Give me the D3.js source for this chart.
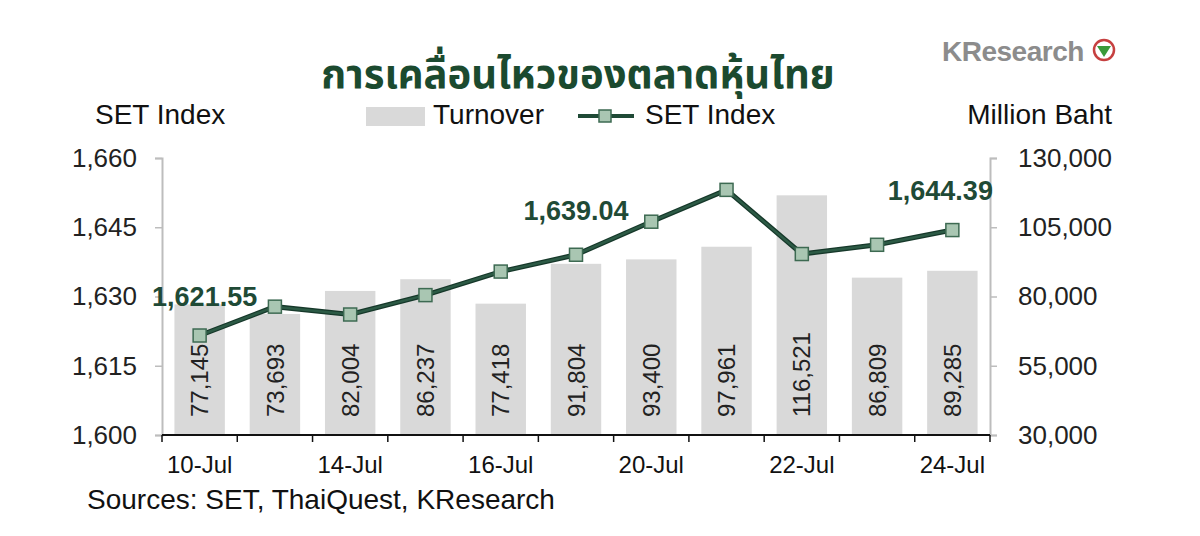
<!DOCTYPE html>
<html>
<head>
<meta charset="utf-8">
<title>SET Index</title>
<script src="https://cdn.jsdelivr.net/npm/d3@7"></script>
<style>
  body { margin: 0; background: #fff; }
  svg text { font-family: Arial, "Liberation Sans", sans-serif; }
</style>
</head>
<body>
<svg id="chart" width="1200" height="536"></svg>
<script>
// data
var dates = ["10-Jul","13-Jul","14-Jul","15-Jul","16-Jul","17-Jul","20-Jul","21-Jul","22-Jul","23-Jul","24-Jul"];
var shownDates = ["10-Jul","14-Jul","16-Jul","20-Jul","22-Jul","24-Jul"];
var turnover = [77145, 73693, 82004, 86237, 77418, 91804, 93400, 97961, 116521, 86809, 89285];
var setIndex = [1621.55, 1627.8, 1626.1, 1630.3, 1635.4, 1639.04, 1646.2, 1653.1, 1639.2, 1641.2, 1644.39];
var labelled = ["10-Jul", "17-Jul", "24-Jul"];
var leftTicks = [1600, 1615, 1630, 1645, 1660];
var rightTicks = [30000, 55000, 80000, 105000, 130000];

var svg = d3.select("#chart");
var pLeft = 162, pRight = 990, pTop = 158, pBottom = 435;
var green = "#1f4a36";

var x = d3.scaleBand().domain(dates).range([pLeft, pRight]).paddingInner(0.33).paddingOuter(0.165);
var yL = d3.scaleLinear().domain([1600, 1660]).range([pBottom, pTop]);
var yR = d3.scaleLinear().domain([30000, 130000]).range([pBottom, pTop]);
var fmt = d3.format(",");

// title
svg.append("text").attr("x", 578).attr("y", 88).attr("text-anchor", "middle")
  .style("font-family", "'Noto Sans Thai', 'Noto Sans', Tahoma, sans-serif")
  .style("font-size", "40px").style("font-weight", "bold").style("fill", "#1b4a2f")
  .text("การเคลื่อนไหวของตลาดหุ้นไทย");

// logo
svg.append("text").attr("x", 942).attr("y", 61)
  .style("font-size", "28px").style("font-weight", "bold").style("fill", "#8c8c8c")
  .style("letter-spacing", "-0.5px").text("KResearch");
svg.append("circle").attr("cx", 1104).attr("cy", 50).attr("r", 10)
  .attr("fill", "#fff").attr("stroke", "#c64040").attr("stroke-width", 2.5);
svg.append("path").attr("d", "M1097,46 L1111,46 L1104,57 Z").attr("fill", "#3a9a3a");

// axis titles + legend
svg.append("text").attr("x", 95).attr("y", 124).style("font-size", "28px").style("fill", "#111").text("SET Index");
svg.append("text").attr("x", 1112).attr("y", 124).attr("text-anchor", "end").style("font-size", "28px").style("fill", "#111").text("Million Baht");
svg.append("rect").attr("x", 366).attr("y", 107).attr("width", 59).attr("height", 19).attr("fill", "#d9d9d9");
svg.append("text").attr("x", 433).attr("y", 124).style("font-size", "28px").style("fill", "#111").text("Turnover");
svg.append("line").attr("x1", 578).attr("x2", 634).attr("y1", 116).attr("y2", 116).attr("stroke", green).attr("stroke-width", 4);
svg.append("rect").attr("x", 599).attr("y", 110).attr("width", 12).attr("height", 12)
  .attr("fill", "#a9c6b2").attr("stroke", "#3d6a52").attr("stroke-width", 1.5);
svg.append("text").attr("x", 645).attr("y", 124).style("font-size", "28px").style("fill", "#111").text("SET Index");

// bars
svg.selectAll(".bar").data(turnover).enter().append("rect")
  .attr("x", function(d, i) { return x(dates[i]); })
  .attr("width", x.bandwidth())
  .attr("y", function(d) { return yR(d); })
  .attr("height", function(d) { return pBottom - yR(d); })
  .attr("fill", "#d9d9d9");

svg.selectAll(".barlab").data(turnover).enter().append("text")
  .attr("transform", function(d, i) {
    return "translate(" + (x(dates[i]) + x.bandwidth() / 2) + "," + (pBottom - 18) + ") rotate(-90)";
  })
  .attr("dy", "0.36em")
  .style("font-size", "24px").style("fill", "#222")
  .text(function(d) { return fmt(d); });

// axes
var axL = svg.append("g").attr("transform", "translate(" + pLeft + ",0)")
  .call(d3.axisLeft(yL).tickValues(leftTicks).tickSize(7).tickPadding(18).tickFormat(d3.format(",")));
var axR = svg.append("g").attr("transform", "translate(" + pRight + ",0)")
  .call(d3.axisRight(yR).tickValues(rightTicks).tickSize(7).tickPadding(21).tickFormat(d3.format(",")));
[axL, axR].forEach(function(g) {
  g.select(".domain").attr("stroke", "#bdbdbd").attr("stroke-width", 2);
  g.selectAll(".tick line").attr("stroke", "#bdbdbd").attr("stroke-width", 1.5);
  g.selectAll(".tick text").style("font-size", "26px").style("font-family", "Arial, 'Liberation Sans', sans-serif").attr("fill", "#222");
});

// x axis: ticks at category boundaries
var bounds = dates.map(function(d) { return x(d) - x.step() * x.paddingInner() / 2; }).concat([pRight]);
svg.append("line").attr("x1", pLeft).attr("x2", pRight).attr("y1", pBottom).attr("y2", pBottom)
  .attr("stroke", "#111").attr("stroke-width", 2);
svg.selectAll(".xtick").data(bounds).enter().append("line")
  .attr("x1", function(d) { return d; }).attr("x2", function(d) { return d; })
  .attr("y1", pBottom).attr("y2", pBottom + 7)
  .attr("stroke", "#111").attr("stroke-width", 1.5);
svg.selectAll(".xlab").data(shownDates).enter().append("text")
  .attr("x", function(d) { return x(d) + x.bandwidth() / 2; })
  .attr("y", 473).attr("text-anchor", "middle")
  .style("font-size", "24px").style("fill", "#111")
  .text(function(d) { return d; });

// line
var line = d3.line().x(function(d, i) { return x(dates[i]) + x.bandwidth() / 2; }).y(function(d) { return yL(d); });
svg.append("path").datum(setIndex).attr("d", line).attr("fill", "none")
  .attr("stroke", "#16382a").attr("stroke-width", 5);
svg.append("path").datum(setIndex).attr("d", line).attr("fill", "none")
  .attr("stroke", "#2c5a45").attr("stroke-width", 2.5);
svg.selectAll(".mk").data(setIndex).enter().append("rect")
  .attr("x", function(d, i) { return x(dates[i]) + x.bandwidth() / 2 - 6.5; })
  .attr("y", function(d) { return yL(d) - 6.5; })
  .attr("width", 13).attr("height", 13)
  .attr("fill", "#a9c6b2").attr("stroke", "#3d6a52").attr("stroke-width", 1.5);

// value labels
svg.selectAll(".vlab").data(labelled).enter().append("text")
  .attr("x", function(d) { var i = dates.indexOf(d); return x(d) + x.bandwidth() / 2 + (i === 0 ? 5 : i === 10 ? -12 : 0); })
  .attr("y", function(d) { var i = dates.indexOf(d); return yL(setIndex[i]) - (i === 0 ? 30 : i === 10 ? 30 : 35); })
  .attr("text-anchor", "middle")
  .style("font-size", "27px").style("font-weight", "bold").style("fill", green)
  .text(function(d) { return d3.format(",.2f")(setIndex[dates.indexOf(d)]); });

// source
svg.append("text").attr("x", 87).attr("y", 509).style("font-size", "28px").style("fill", "#111")
  .text("Sources: SET, ThaiQuest, KResearch");
</script>
</body>
</html>
